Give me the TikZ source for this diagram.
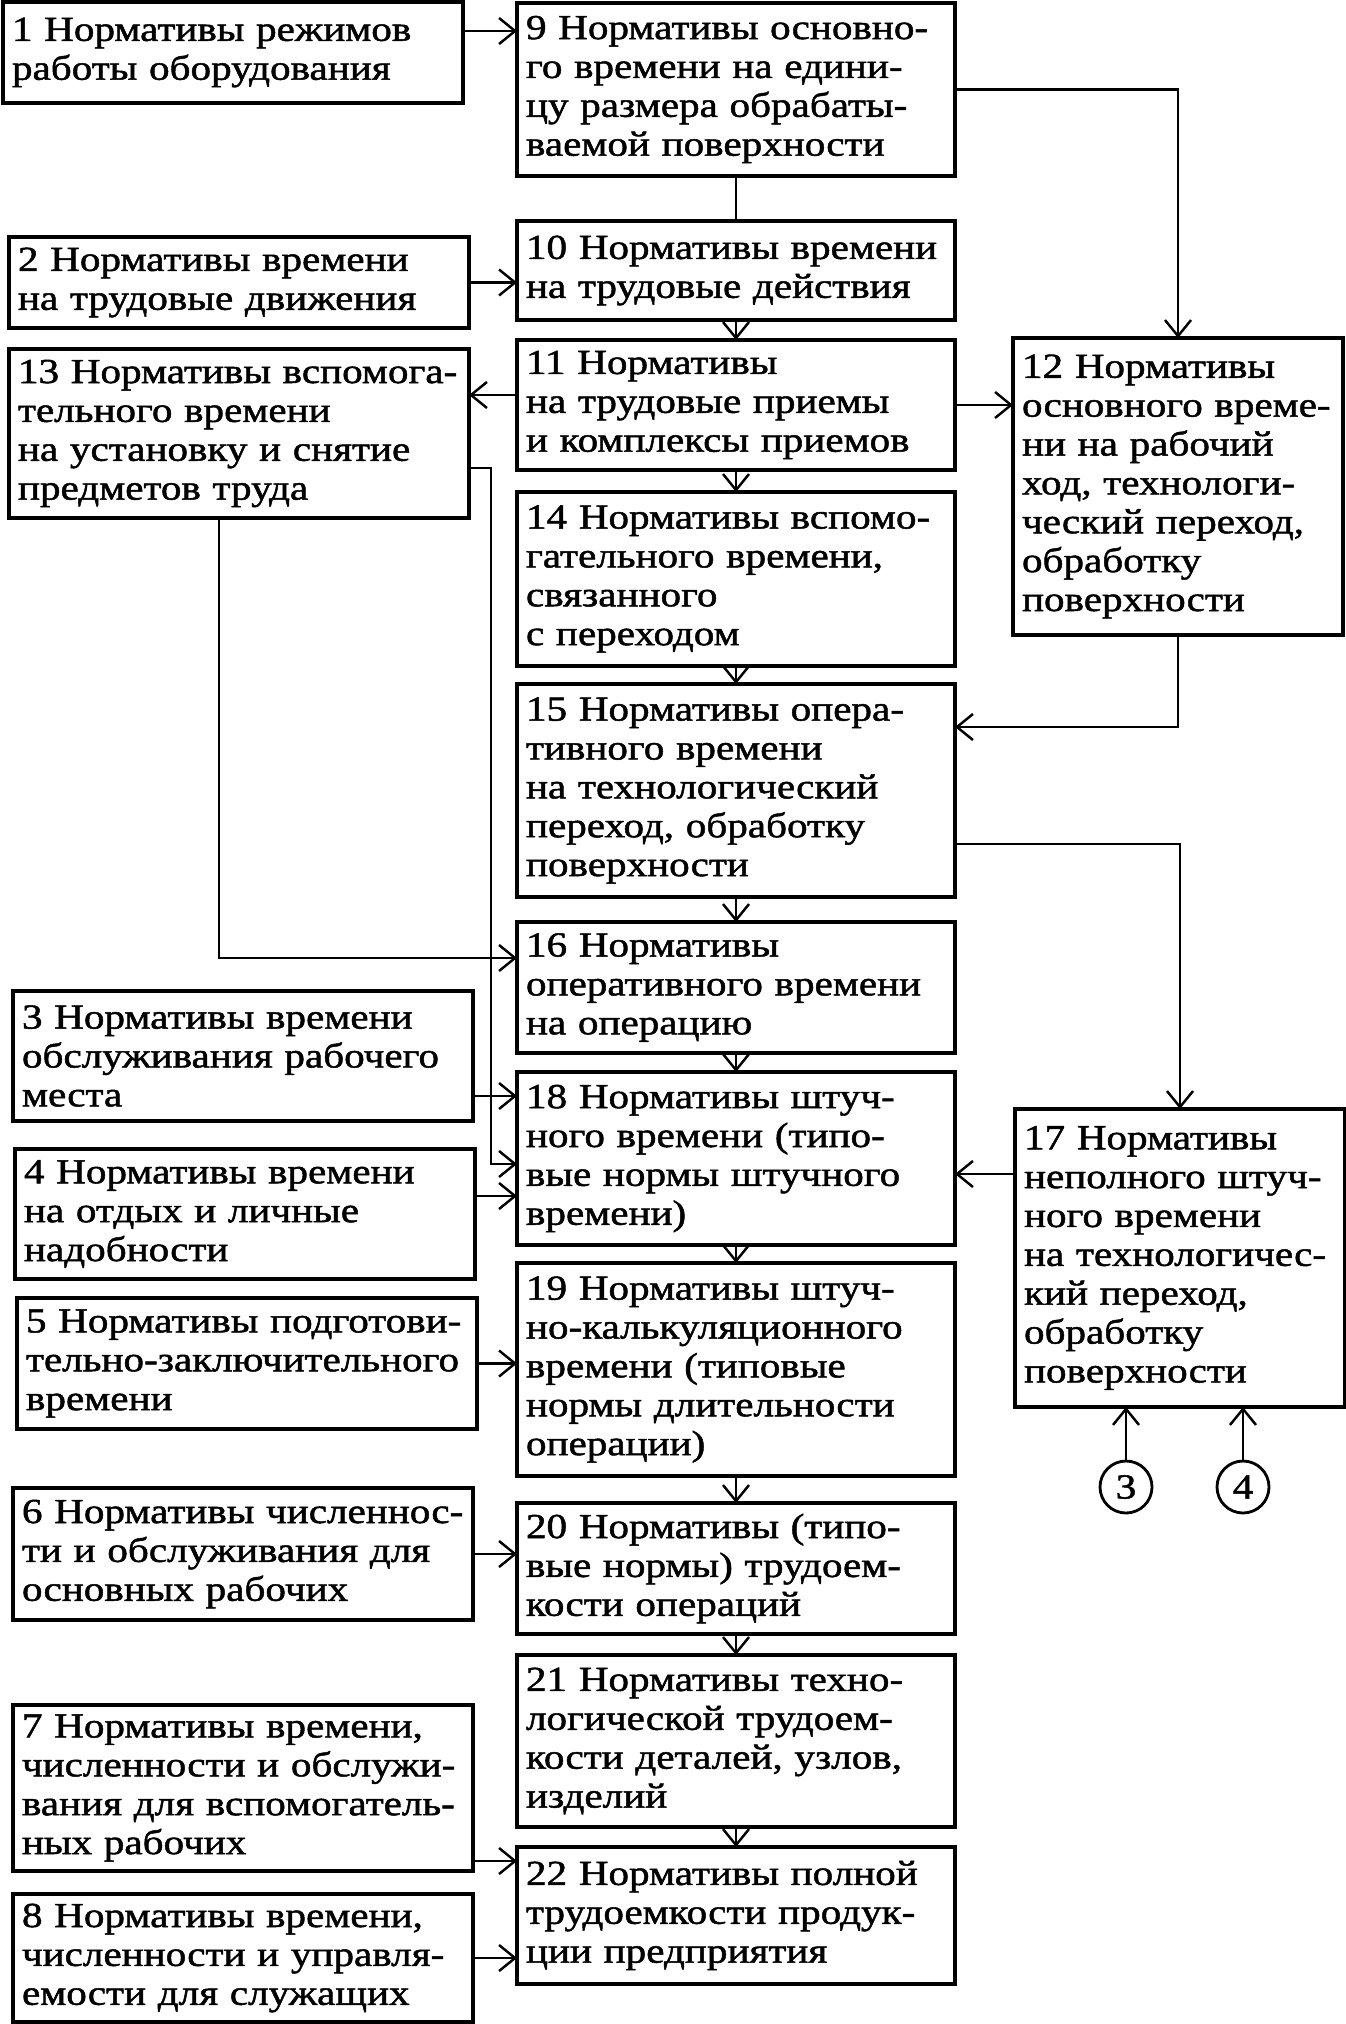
\documentclass[tikz,border=0pt]{standalone}
\usepackage{fontspec}
\setmainfont[FakeStretch=1.17,FakeBold=1.4]{Liberation Serif}
\usepackage{tikz}
\usetikzlibrary{arrows.meta,positioning,calc}
\tikzset{
  box/.style={draw=black,line width=0.9pt,outer sep=0pt,inner xsep=0.9mm,inner ysep=0.5mm,
              align=left,font=\fontsize{10}{11.06}\selectfont},
  mid/.style={box,text width=42mm},
  lft/.style={box,text width=44.2mm,anchor=north west},
  rgt/.style={box,text width=31.2mm,anchor=north west},
  circ/.style={circle,draw=black,line width=0.8pt,minimum size=5.2mm,inner sep=0pt,
               font=\fontsize{10}{11}\selectfont},
  arr/.style={-{Straight Barb[length=1.6mm,width=2.6mm]},line width=0.7pt},
  ln/.style={line width=0.7pt},
}

\begin{document}
\begin{tikzpicture}[node distance=2mm]
  \useasboundingbox (0,0) rectangle (13.46,-20.24);
  \node[mid,minimum height=17.3mm,anchor=north west] (n9) at (5.17,-0.03) {9 Нормативы основно-\\го времени на едини-\\цу размера обрабаты-\\ваемой поверхности};
  \node[mid,minimum height=9.9mm,below=4.5mm of n9] (n10) {10 Нормативы времени\\на трудовые действия};
  \node[mid,minimum height=13mm,below=2mm of n10] (n11) {11 Нормативы\\на трудовые приемы\\и комплексы приемов};
  \node[mid,minimum height=17.4mm,below=2.2mm of n11] (n14) {14 Нормативы вспомо-\\гательного времени,\\связанного\\с переходом};
  \node[mid,minimum height=21.3mm,below=1.8mm of n14] (n15) {15 Нормативы опера-\\тивного времени\\на технологический\\переход, обработку\\поверхности};
  \node[mid,minimum height=13.1mm,below=2.5mm of n15] (n16) {16 Нормативы\\оперативного времени\\на операцию};
  \node[mid,minimum height=17.3mm,below=1.9mm of n16] (n18) {18 Нормативы штуч-\\ного времени (типо-\\вые нормы штучного\\времени)};
  \node[mid,minimum height=21.3mm,below=1.8mm of n18] (n19) {19 Нормативы штуч-\\но-калькуляционного\\времени (типовые\\нормы длительности\\операции)};
  \node[mid,minimum height=13.1mm,below=2.7mm of n19] (n20) {20 Нормативы (типо-\\вые нормы) трудоем-\\кости операций};
  \node[mid,minimum height=17.2mm,below=2.1mm of n20] (n21) {21 Нормативы техно-\\логической трудоем-\\кости деталей, узлов,\\изделий};
  \node[mid,minimum height=13.7mm,below=2mm of n21] (n22) {22 Нормативы полной\\трудоемкости продук-\\ции предприятия};

  \node[lft,minimum height=10.1mm] (n1) at (0.03,-0.02) {1 Нормативы режимов\\работы оборудования};
  \node[lft,minimum height=9.1mm] (n2) at (0.09,-2.37) {2 Нормативы времени\\на трудовые движения};
  \node[lft,minimum height=16.9mm] (n13) at (0.09,-3.49) {13 Нормативы вспомога-\\тельного времени\\на установку и снятие\\предметов труда};
  \node[lft,minimum height=13mm] (n3) at (0.13,-9.91) {3 Нормативы времени\\обслуживания рабочего\\места};
  \node[lft,minimum height=13mm] (n4) at (0.15,-11.49) {4 Нормативы времени\\на отдых и личные\\надобности};
  \node[lft,minimum height=13.1mm] (n5) at (0.17,-12.98) {5 Нормативы подготови-\\тельно-заключительного\\времени};
  \node[lft,minimum height=13.2mm] (n6) at (0.13,-14.88) {6 Нормативы численнос-\\ти и обслуживания для\\основных рабочих};
  \node[lft,minimum height=16.6mm] (n7) at (0.13,-17.05) {7 Нормативы времени,\\численности и обслужи-\\вания для вспомогатель-\\ных рабочих};
  \node[lft,minimum height=12.8mm] (n8) at (0.13,-18.94) {8 Нормативы времени,\\численности и управля-\\емости для служащих};

  \node[rgt,minimum height=29.7mm] (n12) at (10.13,-3.38) {12 Нормативы\\основного време-\\ни на рабочий\\ход, технологи-\\ческий переход,\\обработку\\поверхности};
  \node[rgt,minimum height=29.8mm] (n17) at (10.15,-11.09) {17 Нормативы\\неполного штуч-\\ного времени\\на технологичес-\\кий переход,\\обработку\\поверхности};
  \node[circ] (c3) at (11.26,-14.87) {3};
  \node[circ] (c4) at (12.43,-14.87) {4};

  \draw[arr] ([yshift=-2.9mm]n1.north east) coordinate (a1) -- (a1 -| n9.west);
  \draw[arr] (n9.east) -| (n12.north);
  \draw[ln] (n9.south) -- (n10.north);
  \draw[arr] (n2.east) -- (n2.east -| n10.west);
  \draw[arr] ([yshift=1mm]n11.west) coordinate (a2) -- (a2 -| n13.east);
  \draw[arr] (n11.east) -- (n11.east -| n12.west);
  \foreach \a/\b in {n10/n11,n11/n14,n14/n15,n15/n16,n16/n18,n18/n19,n19/n20,n20/n21,n21/n22}
    \draw[arr] (\a.south) -- (\b.north);
  \draw[arr] (n12.south) |- ([yshift=-4.3mm]n15.north east);
  \draw[arr] ([xshift=-2mm]n13.south) |- ([yshift=-3.6mm]n16.north west);
  \draw[arr] ([yshift=5mm]n13.south east) -- ++(2.2mm,0) |- ([yshift=-9.2mm]n18.north west);
  \draw[arr] ([yshift=5.3mm]n15.south east) -| (n17.north);
  \draw[arr] ([yshift=2.5mm]n3.south east) coordinate (a3) -- (a3 -| n18.west);
  \draw[arr] ([yshift=-4.7mm]n4.north east) coordinate (a4) -- (a4 -| n18.west);
  \draw[arr] ([yshift=-6.5mm]n17.north west) coordinate (a5) -- (a5 -| n18.east);
  \draw[arr] (n5.east) -- (n5.east -| n19.west);
  \draw[arr] (n6.east) -- (n6.east -| n20.west);
  \draw[arr] ([yshift=1mm]n7.south east) coordinate (a6) -- (a6 -| n22.west);
  \draw[arr] (n8.east) -- (n8.east -| n22.west);
  \draw[arr] (c3) -- (c3 |- n17.south);
  \draw[arr] (c4) -- (c4 |- n17.south);
\end{tikzpicture}
\end{document}
